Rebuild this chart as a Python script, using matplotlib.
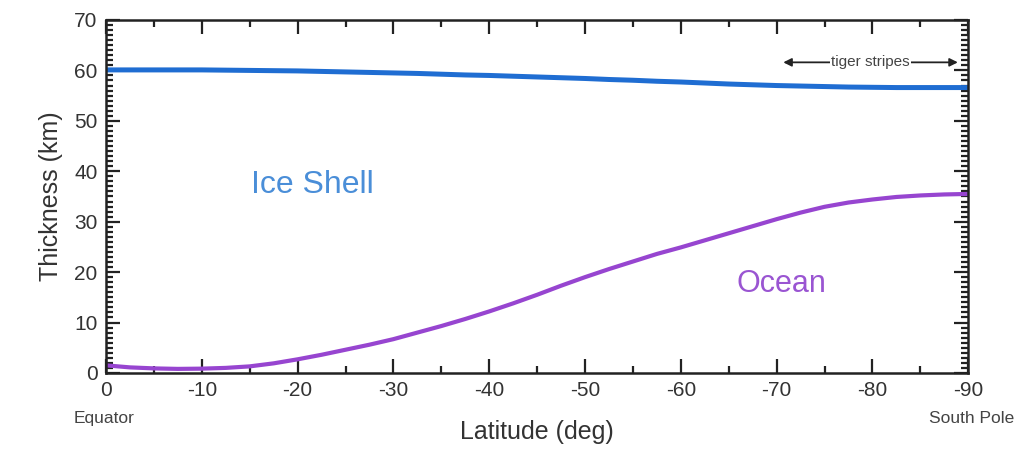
import matplotlib
matplotlib.use("Agg")
import matplotlib.pyplot as plt
from matplotlib.ticker import MultipleLocator

plt.rcParams['font.family'] = ['Liberation Sans', 'DejaVu Sans']
plt.rcParams['axes.unicode_minus'] = False

latitude = [0, -2.5, -5, -7.5, -10, -12.5, -15, -17.5, -20, -22.5,
            -25, -27.5, -30, -32.5, -35, -37.5, -40, -42.5, -45, -47.5,
            -50, -52.5, -55, -57.5, -60, -62.5, -65, -67.5, -70, -72.5,
            -75, -77.5, -80, -82.5, -85, -87.5, -90]
ice_shell = [60.1, 60.1, 60.1, 60.1, 60.1, 60.05, 60.0, 59.95, 59.9, 59.8,
             59.7, 59.6, 59.5, 59.4, 59.25, 59.1, 59.0, 58.85, 58.7, 58.55,
             58.4, 58.2, 58.05, 57.85, 57.7, 57.5, 57.3, 57.15, 57.0, 56.9,
             56.8, 56.7, 56.65, 56.6, 56.6, 56.6, 56.6]
ocean = [1.5, 1.1, 0.9, 0.8, 0.85, 1.0, 1.3, 1.9, 2.7, 3.6,
         4.6, 5.6, 6.7, 8.0, 9.3, 10.7, 12.2, 13.8, 15.5, 17.3,
         19.0, 20.6, 22.1, 23.6, 24.9, 26.3, 27.7, 29.1, 30.5, 31.8,
         32.95, 33.8, 34.4, 34.9, 35.2, 35.4, 35.5]

fig = plt.figure(figsize=(10.29, 4.65), dpi=100)
ax = fig.add_axes([0.103, 0.198, 0.838, 0.759])

ax.plot(latitude, ice_shell, color="#1f6dd2", lw=3.6, solid_capstyle="butt")
ax.plot(latitude, ocean, color="#9745d0", lw=3.0, solid_capstyle="butt")

ax.set_xlim(0, -90)
ax.set_ylim(0, 70)
ax.xaxis.set_major_locator(MultipleLocator(10))
ax.xaxis.set_minor_locator(MultipleLocator(5))
ax.yaxis.set_major_locator(MultipleLocator(10))
ax.yaxis.set_minor_locator(MultipleLocator(1))
ax.tick_params(which="both", direction="in", top=True, right=True,
               width=1.6, color="#222222", labelsize=15, labelcolor="#333333")
ax.tick_params(which="major", length=10, pad=6)
ax.tick_params(which="minor", length=5)
for s in ax.spines.values():
    s.set_linewidth(1.8)
    s.set_color("#222222")

ax.set_xlabel("Latitude (deg)", fontsize=18, color="#333333", labelpad=14)
ax.set_ylabel("Thickness (km)", fontsize=18, color="#333333", labelpad=8)

ax.text(-21.5, 37.3, "Ice Shell", color="#4a8ed8", fontsize=23, ha="center", va="center")
ax.text(-70.5, 17.7, "Ocean", color="#9a55d2", fontsize=22, ha="center", va="center")

ax.text(0.2, -9.0, "Equator", fontsize=12.5, color="#444444", ha="center", va="center", clip_on=False)
ax.text(-90.4, -9.0, "South Pole", fontsize=12.5, color="#444444", ha="center", va="center", clip_on=False)

ax.annotate("", xy=(-70.4, 61.6), xytext=(-89.2, 61.6),
            arrowprops=dict(arrowstyle="<|-|>", color="#222222", lw=1.3, mutation_scale=12))
ax.text(-79.8, 61.6, "tiger stripes", fontsize=11, color="#444444", ha="center", va="center",
        bbox=dict(facecolor="white", edgecolor="none", pad=1))

fig.savefig("out.png", dpi=100)
